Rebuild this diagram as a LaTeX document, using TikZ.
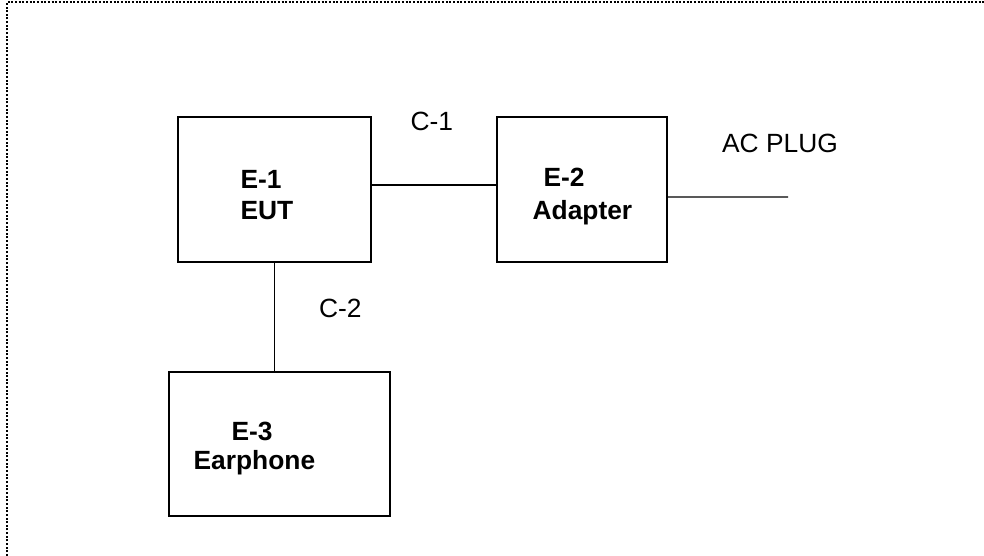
\documentclass[tikz,border=0pt]{standalone}
\usepackage{fontspec}
\setmainfont{Liberation Sans}
\usepackage{tikz}

\tikzset{
  unit/.style={draw, line width=0.7pt, inner sep=0pt},
  lbl/.style={font=\fontsize{15}{18}\selectfont, inner sep=0pt, anchor=base west},
  boldlbl/.style={lbl, font=\fontsize{15}{18}\selectfont\bfseries}
}

\begin{document}
\begin{tikzpicture}[scale=1,line width=0.7pt]
\useasboundingbox (0,0) rectangle (19.68,-11.12);

%frame
\draw [line width=1.1pt, dash pattern=on 0.04cm off 0.033cm] (0.14,-11.12) -- (0.14,-0.04) -- (19.68,-0.04);

\node [unit, minimum width=3.86cm, minimum height=2.9cm] (e1) at (5.49,-3.79) {};
\node [boldlbl] (e1id) at (4.80,-3.78) {E-1};
\node [boldlbl] (e1name) at (4.80,-4.39) {EUT};

\node [unit, minimum width=3.4cm, minimum height=2.9cm] (e2) at (11.64,-3.79) {};
\node [boldlbl] (e2id) at (10.86,-3.74) {E-2};
\node [boldlbl] (e2name) at (10.64,-4.40) {Adapter};

\node [unit, minimum width=4.42cm, minimum height=2.88cm] (e3) at (5.59,-8.88) {};
\node [boldlbl] (e3id) at (4.62,-8.81) {E-3};
\node [boldlbl] (e3name) at (3.86,-9.38) {Earphone};

\node [lbl] (c1) at (8.20,-2.62) {C-1};
\node [lbl] (c2) at (6.37,-6.36) {C-2};
\node [lbl] (ac) at (14.43,-3.05) {AC PLUG};

%cables
\coordinate (plug) at (15.76,-3.94);
\draw ([yshift=0.09cm]e1.east) -- ([yshift=0.09cm]e2.west);
\draw ([yshift=-0.15cm]e2.east) -- (plug);
\draw (e1.south) -- (e1.south |- e3.north);

\end{tikzpicture}
\end{document}
